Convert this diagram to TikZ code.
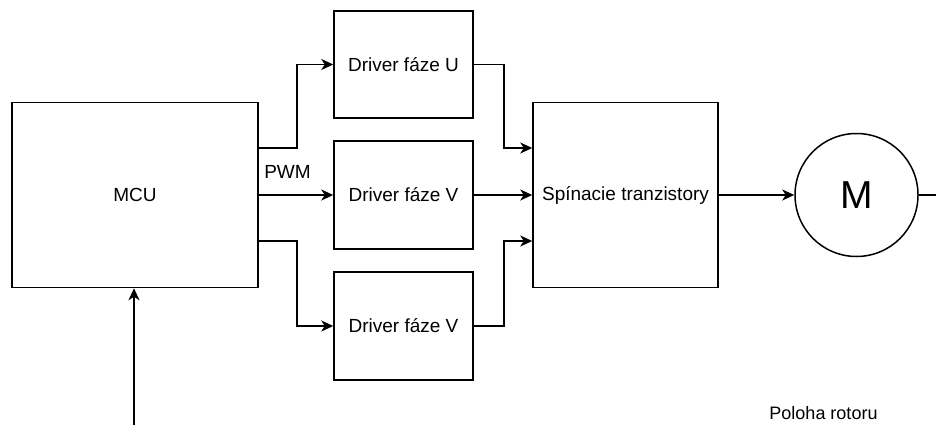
\documentclass[tikz,border=0pt]{standalone}
\usepackage{fontspec}
\setmainfont{Liberation Sans}
\usetikzlibrary{arrows.meta,calc}
\begin{document}
\begin{tikzpicture}[x=1pt,y=-1pt,
  blk/.style={draw=black,line width=1.5pt,fill=white,inner sep=0pt,font=\fontsize{19}{22}\selectfont},
  arr/.style={draw=black,line width=1.5pt,-{Stealth[length=12pt,width=11pt,inset=3.5pt]}},
  ln/.style={draw=black,line width=1.5pt},
  lbl/.style={inner sep=0pt,font=\fontsize{18}{21}\selectfont}]
\useasboundingbox (0,0) rectangle (936,425);
\node[blk,minimum width=246pt,minimum height=185pt] (mcu) at (135,195) {MCU};
\node[blk,minimum width=139pt,minimum height=107pt] (drvU) at (403.5,64.5) {Driver fáze U};
\node[blk,minimum width=139pt,minimum height=108pt] (drvV) at (403.5,195) {Driver fáze V};
\node[blk,minimum width=139pt,minimum height=108pt] (drvW) at (403.5,326) {Driver fáze V};
\node[blk,minimum width=185pt,minimum height=185pt] (spin) at (625.5,195) {Spínacie tranzistory};
\node[blk,circle,minimum size=123pt,font=\fontsize{39}{42}\selectfont] (mot) at (856.5,195) {M};
\node[lbl,font=\fontsize{19}{22}\selectfont] (pwm) at (287.5,172) {PWM};
\node[lbl] (pol) at (823.5,413) {Poloha rotoru};
\coordinate (bot) at (134,425);
\coordinate (rend) at (940,195);
% MCU to drivers
\draw[arr] ($(mcu.east)+(0,-47)$) -- ++(38,0) |- (drvU.west);
\draw[arr] (mcu.east) -- (drvV.west);
\draw[arr] ($(mcu.east)+(0,46)$) -- ++(38,0) |- (drvW.west);
% drivers to switches
\draw[arr] (drvU.east) -- ++(30,0) |- ($(spin.west)+(0,-47)$);
\draw[arr] (drvV.east) -- (spin.west);
\draw[arr] (drvW.east) -- ++(30,0) |- ($(spin.west)+(0,46)$);
% to motor
\draw[arr] (spin.east) -- (mot.west);
\draw[ln] (mot.east) -- (rend);
% feedback
\draw[arr] (bot) -- (bot |- mcu.south);
\end{tikzpicture}
\end{document}
